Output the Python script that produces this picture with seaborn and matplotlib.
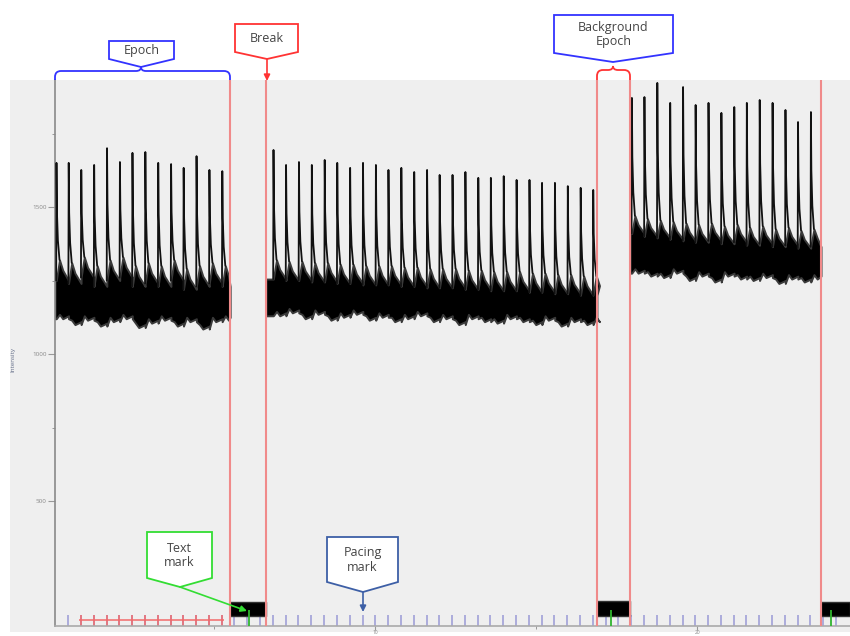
import matplotlib
matplotlib.use("Agg")
import pandas as pd
import matplotlib.pyplot as plt
import seaborn as sns
from matplotlib.patches import Rectangle, Polygon, PathPatch
from matplotlib.path import Path

# ---- data (seconds / counts) ----
# epoch 1
e1_t = [0.10, 0.48, 0.87, 1.27, 1.67, 2.07, 2.46, 2.86, 3.26, 3.66, 4.05, 4.45, 4.85, 5.25]
e1_peak = [1650, 1650, 1626, 1643, 1700, 1653, 1684, 1687, 1650, 1646, 1633, 1673, 1626, 1622]
e1_top = [1320, 1310, 1330, 1300, 1320, 1330, 1300, 1310, 1300, 1320, 1290, 1300, 1310, 1300]
e1_bot = [1120, 1100, 1115, 1095, 1110, 1120, 1090, 1105, 1115, 1095, 1110, 1085, 1110, 1115]
e1_decay = 70

# epoch 2
e2_t = [6.84, 7.23, 7.63, 8.03, 8.43, 8.82, 9.22, 9.62, 10.02, 10.41, 10.81, 11.21, 11.61,
        12.00, 12.40, 12.80, 13.20, 13.59, 13.99, 14.39, 14.79, 15.18, 15.58, 15.98, 16.38, 16.77]
e2_peak = [1694, 1643, 1653, 1643, 1660, 1650, 1633, 1650, 1643, 1626, 1633, 1619, 1626,
           1609, 1609, 1619, 1599, 1599, 1605, 1592, 1592, 1582, 1582, 1571, 1565, 1558]
e2_top = [1320, 1315, 1315, 1310, 1310, 1305, 1305, 1300, 1300, 1300, 1295, 1295, 1290,
          1290, 1290, 1285, 1285, 1280, 1280, 1280, 1275, 1275, 1270, 1270, 1265, 1265]
e2_bot = [1130, 1140, 1120, 1135, 1115, 1125, 1135, 1115, 1125, 1110, 1120, 1130, 1110,
          1120, 1100, 1120, 1110, 1105, 1120, 1110, 1100, 1115, 1095, 1110, 1100, 1110]
e2_decay = 65

# epoch 3
e3_t = [17.97, 18.36, 18.76, 19.16, 19.56, 19.95, 20.35, 20.75, 21.15, 21.54, 21.94, 22.34, 22.74, 23.13, 23.53]
e3_peak = [1871, 1874, 1922, 1854, 1908, 1847, 1854, 1820, 1840, 1854, 1864, 1854, 1830, 1789, 1823]
e3_top = [1470, 1460, 1455, 1450, 1445, 1440, 1445, 1435, 1440, 1430, 1435, 1425, 1430, 1420, 1425]
e3_bot = [1275, 1265, 1260, 1275, 1250, 1265, 1245, 1265, 1255, 1250, 1260, 1240, 1255, 1245, 1255]
e3_decay = 60

epoch_start = [0.06, 6.61, 17.92]
epoch_end = [5.50, 16.89, 23.85]

# breaks (shutter closed)
break_start = [5.50, 16.89, 23.85]
break_end = [6.61, 17.92, 24.75]
break_lo = [108, 108, 110]
break_hi = [158, 160, 158]

# marks
pacing_t = [0.47, 0.86, 1.26, 1.66, 2.06, 2.45, 2.85, 3.25, 3.65, 4.04, 4.44, 4.84, 5.24, 5.63,
            6.03, 6.43, 6.83, 7.22, 7.62, 8.02, 8.42, 8.81, 9.21, 9.61, 10.01, 10.40, 10.80,
            11.20, 11.60, 11.99, 12.39, 12.79, 13.19, 13.58, 13.98, 14.38, 14.78, 15.17, 15.57,
            15.97, 16.37, 16.76, 17.16, 17.56, 17.96, 18.35, 18.75, 19.15, 19.55, 19.94, 20.34,
            20.74, 21.14, 21.53, 21.93, 22.33, 22.73, 23.12, 23.52, 23.92, 24.32]
red_pacing_t = [0.86, 1.26, 1.66, 2.06, 2.45, 2.85, 3.25, 3.65, 4.04, 4.44, 4.84, 5.24]
text_mark_t = [6.07, 17.34, 24.16]
boundary_t = [5.50, 6.61, 16.89, 17.92, 23.85]

W, H = 850, 636
GRAY = '#efefef'

sns.set_theme(style="white")
plt.rcParams['font.family'] = ['Open Sans', 'DejaVu Sans']

fig = plt.figure(figsize=(W / 100, H / 100), dpi=100)
fig.patches.append(Rectangle((10 / W, 4 / H), 840 / W, 552 / H, transform=fig.transFigure,
                             facecolor=GRAY, edgecolor='none', zorder=-5))
ax = fig.add_axes([55 / W, 10 / H, 795 / W, 546 / H])
ax.set_facecolor(GRAY)

# pacing marks (under trace)
ax.vlines(pacing_t, 75, 112, color='#9a9ad6', lw=1.1, zorder=1)
ax.vlines(red_pacing_t, 75, 112, color='#f26a6a', lw=1.1, zorder=1.5)
ax.hlines(95, red_pacing_t[0] - 0.07, red_pacing_t[-1] + 0.07, color='#f26a6a', lw=1.1, zorder=1.5)

# noisy baseline bands
epochs = [(e1_t, e1_peak, e1_top, e1_bot, e1_decay),
          (e2_t, e2_peak, e2_top, e2_bot, e2_decay),
          (e3_t, e3_peak, e3_top, e3_bot, e3_decay)]
rows = []
sid = 0
for k, (ts, pk, top, bot, dec) in enumerate(epochs):
    xs, up, lo = [epoch_start[k]], [top[0] - dec], [bot[0]]
    for i, t in enumerate(ts):
        t_next = ts[i + 1] if i + 1 < len(ts) else epoch_end[k]
        xs += [t, t + 0.1, t + 0.2, t_next]
        up += [top[i] - dec, top[i], top[i] - dec * 0.5, top[i] - dec]
        lo += [(bot[i - 1] if i else bot[0]), bot[i] + 15, bot[i], bot[i] + 10]
        h = pk[i] - top[i]
        for dt, v in [(-0.004, top[i] - dec), (0.006, pk[i]), (0.02, top[i] + 0.5 * h),
                      (0.05, top[i] + 0.2 * h), (0.1, top[i])]:
            rows.append({'t': t + dt, 'v': v, 'spike': sid})
        sid += 1
    ax.fill_between(xs, lo, up, color='black', lw=1.4, edgecolor='#3a3a3a', zorder=2)

spikes = pd.DataFrame(rows)
sns.lineplot(data=spikes, x='t', y='v', units='spike', estimator=None, sort=False,
             color='#111111', lw=1.3, ax=ax, zorder=3)

for s, e, lo_, hi_ in zip(break_start, break_end, break_lo, break_hi):
    ax.fill_between([s, e], [lo_, lo_], [hi_, hi_], color='black', lw=1, edgecolor='#333333', zorder=2)

ax.vlines(text_mark_t, 75, 130, color='#2fb52f', lw=1.3, zorder=4)
ax.vlines(boundary_t, 75, 1932, color='#f08a8a', lw=1.5, zorder=5)

ax.set_xlim(0.06, 24.75)
ax.set_ylim(75, 1932)
ax.set_xticks([10, 20])
ax.set_xticklabels(['10', '20'])
ax.set_xticks([5, 15], minor=True)
ax.set_yticks([500, 1000, 1500])
ax.set_yticklabels(['500', '1000', '1500'])
ax.set_yticks([750, 1250, 1750], minor=True)
ax.tick_params(axis='y', which='major', length=5, width=0.8, color='#999999',
               labelsize=4.5, labelcolor='#888888', pad=1, left=True)
ax.tick_params(axis='x', which='major', length=3, width=0.8, color='#999999',
               labelsize=3.5, labelcolor='#888888', pad=0, bottom=True)
ax.tick_params(axis='both', which='minor', length=2.5, width=0.7, color='#999999',
               left=True, bottom=True)
ax.set_xlabel('')
ax.set_ylabel('')
sns.despine(ax=ax)
ax.spines['left'].set_color('#8a8a8a')
ax.spines['left'].set_linewidth(1.2)
ax.spines['bottom'].set_color('#aaaaaa')
ax.spines['bottom'].set_linewidth(1.2)
fig.text(13 / W, 1 - 360 / H, 'Intensity', rotation=90, fontsize=4.5, color='#66708a',
         ha='center', va='center')

# ---- callouts (figure pixel coordinates) ----
ov = fig.add_axes([0, 0, 1, 1])
ov.set_xlim(0, W)
ov.set_ylim(H, 0)
ov.axis('off')
ov.patch.set_alpha(0)
ov.set_zorder(10)


def callout(x0, x1, y0, y1, tip, color, text):
    pts = [(x0, y0), (x1, y0), (x1, y1), tip, (x0, y1)]
    ov.add_patch(Polygon(pts, closed=True, facecolor='white', edgecolor=color, lw=1.3))
    ov.text((x0 + x1) / 2, (y0 + y1) / 2 + 0.5, text, ha='center', va='center',
            fontsize=9, color='#444444', linespacing=1.15)


def brace(xl, xr, xm, ytop, ybot, color):
    r = 6
    verts = [(xl, ybot), (xl, ytop + r), (xl, ytop), (xl + r, ytop), (xm - 5, ytop),
             (xm, ytop), (xm, ytop - 4), (xm, ytop), (xm + 5, ytop), (xr - r, ytop),
             (xr, ytop), (xr, ytop + r), (xr, ybot)]
    codes = [Path.MOVETO, Path.LINETO, Path.CURVE3, Path.CURVE3, Path.LINETO,
             Path.CURVE3, Path.CURVE3, Path.CURVE3, Path.CURVE3, Path.LINETO,
             Path.CURVE3, Path.CURVE3, Path.LINETO]
    ov.add_patch(PathPatch(Path(verts, codes), facecolor='none', edgecolor=color, lw=1.3))


def arrow(p0, p1, color):
    ov.annotate('', xy=p1, xytext=p0,
                arrowprops=dict(arrowstyle='-|>', color=color, lw=1.2, mutation_scale=9,
                                shrinkA=0, shrinkB=0))


BLUE = '#3333ff'
RED = '#ff3333'
GREEN = '#33dd33'
NAVY = '#3d5fa6'

callout(109, 174, 41, 59, (141, 67), BLUE, 'Epoch')
brace(55, 230, 141, 71, 80, BLUE)

callout(235, 298, 24, 52, (267, 59), RED, 'Break')
arrow((267, 59), (267, 81), RED)

callout(554, 673, 15, 53, (613, 62), BLUE, 'Background\nEpoch')
brace(597, 630, 613, 70, 80, RED)

callout(147, 212, 532, 578, (180, 587), GREEN, 'Text\nmark')
arrow((180, 587), (247, 611), GREEN)

callout(327, 398, 537, 582, (363, 592), NAVY, 'Pacing\nmark')
arrow((363, 592), (363, 612), NAVY)

fig.savefig('out.png', dpi=100, facecolor='white')
